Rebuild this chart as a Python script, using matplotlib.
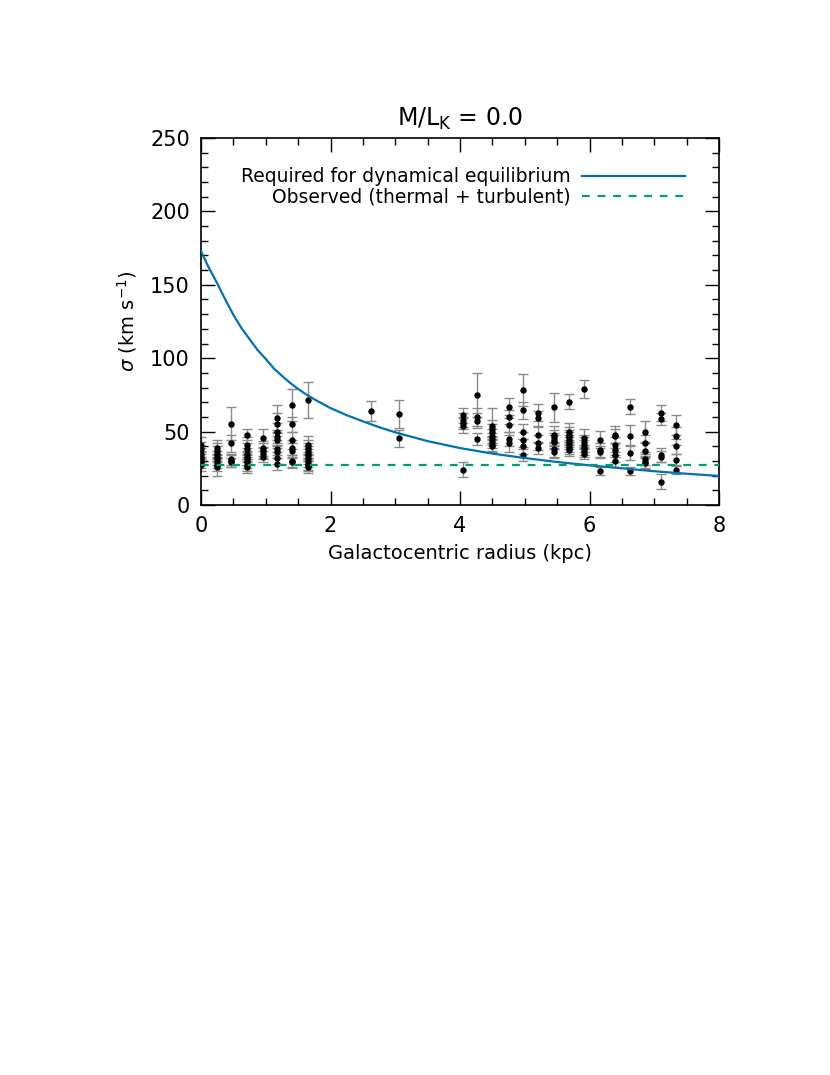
import numpy as np
import matplotlib
matplotlib.use("Agg")
import matplotlib.pyplot as plt
from matplotlib.ticker import MultipleLocator

# required dispersion for dynamical equilibrium
curve_r = [0, 0.1, 0.25, 0.375, 0.5, 0.625, 0.75, 0.875, 1.0, 1.125, 1.25,
           1.375, 1.5, 1.625, 1.75, 2.0, 2.25, 2.5, 2.75, 3.0, 3.5,
           4.0, 4.5, 5.0, 5.5, 6.0, 6.5, 7.0, 7.5, 8.0]
curve_sig = [173, 163.5, 151, 140, 129.5, 120.5, 113, 105.5, 99.5, 93, 88,
             83.2, 79, 75.3, 72, 66, 61.2, 57, 53, 49.5, 43.5,
             38.8, 35, 32, 29.3, 27, 25, 23, 21.3, 19.8]

# observed (thermal + turbulent) level
sig_obs_level = 27.5

# observed points, grouped by radius
ring_r = [0.0, 0.24, 0.47, 0.71, 0.95, 1.18, 1.41, 1.65, 2.63, 3.06,
          4.04, 4.27, 4.50, 4.75, 4.98, 5.21, 5.45, 5.68, 5.92, 6.16,
          6.39, 6.63, 6.86, 7.10, 7.33]
ring_sig = [
    [41, 38, 35, 33, 31, 29, 27],
    [39, 37, 35, 33, 31, 29, 27, 26],
    [55.5, 42, 31, 30, 29],
    [48, 41, 38, 35, 33, 31, 29, 27, 26],
    [45.5, 38.5, 37, 35, 33],
    [59, 55, 50, 46, 44, 38, 36, 32, 28],
    [68, 55, 44, 39, 37, 30, 29],
    [71.5, 41, 39, 37, 35, 34, 32, 30, 28, 27, 26],
    [64],
    [62, 45.5],
    [61, 58, 56, 54, 24],
    [75, 60, 57.5, 45],
    [54, 52, 50, 47, 45, 43, 41, 40],
    [67, 60, 54.5, 45, 42],
    [78.5, 64.5, 50, 44.5, 40, 34],
    [63, 59, 48, 42.5, 38.5],
    [66.5, 48, 46, 44, 43, 38, 36],
    [70.5, 50, 48, 46, 44.5, 43, 41, 39, 37.5],
    [79, 45.5, 43, 41, 39, 37, 35],
    [44.5, 37.5, 36, 23.2],
    [48, 47, 41, 37.5, 34, 30],
    [67, 47.3, 35.7, 23.2],
    [50, 42, 37, 31, 29.5, 28.5],
    [62.5, 58.5, 34, 33, 16],
    [54.5, 47, 40, 30.5, 24],
]
ring_err = [
    [5, 5, 4, 4, 4, 4, 4],
    [5, 5, 5, 4, 4, 4, 4, 6],
    [11, 6, 4, 4, 3],
    [4, 5, 4, 4, 4, 4, 4, 4, 4],
    [6, 5, 5, 4, 4],
    [9, 8, 6, 5, 5, 4, 4, 4, 4],
    [11, 5, 6, 5, 5, 4, 4],
    [12, 6, 5, 5, 5, 4, 4, 4, 4, 4, 4],
    [7],
    [9.5, 5.7],
    [5, 5, 4, 5, 5],
    [15, 6, 5, 4],
    [12, 6, 5, 5, 4, 4, 4, 4],
    [6, 5, 5, 5, 6],
    [11, 6, 5, 5, 5, 4],
    [6, 5, 5, 5, 4],
    [10, 6, 5, 5, 5, 5, 4],
    [5, 6, 5, 5, 5, 5, 5, 4, 4],
    [6, 6, 5, 5, 5, 4, 4],
    [6, 5, 4, 2.5],
    [6, 5, 5, 5, 5, 4],
    [5, 7, 5, 2.5],
    [7, 6, 5, 4, 4, 4],
    [5.5, 4, 5, 4, 5],
    [7, 6, 5, 4, 3],
]

BLUE = "#0072B2"
GREEN = "#009E73"

plt.rcParams["font.family"] = "DejaVu Sans"

fig = plt.figure(figsize=(8.3, 10.75), dpi=100)
ax = fig.add_axes([201 / 830, 1 - 505 / 1075, 518 / 830, 367 / 1075])

xs, ys, es = [], [], []
for r, sigs, errs in zip(ring_r, ring_sig, ring_err):
    for s, e in zip(sigs, errs):
        xs.append(r)
        ys.append(s)
        es.append(e)

ax.errorbar(xs, ys, yerr=es, fmt="none", ecolor="#8a8a8a", elinewidth=1,
            capsize=3.5, capthick=1, zorder=2)
ax.plot(xs, ys, "o", color="black", markersize=3.6, zorder=3)

ax.plot(curve_r, curve_sig, color=BLUE, lw=1.6, zorder=4,
        label="Required for dynamical equilibrium")
ax.axhline(sig_obs_level, color=GREEN, lw=1.6, dashes=(3.5, 3.5), zorder=4,
           label="Observed (thermal + turbulent)")

ax.set_xlim(0, 8)
ax.set_ylim(0, 250)
ax.xaxis.set_major_locator(MultipleLocator(2))
ax.xaxis.set_minor_locator(MultipleLocator(0.5))
ax.yaxis.set_major_locator(MultipleLocator(50))
ax.yaxis.set_minor_locator(MultipleLocator(10))
ax.tick_params(which="both", direction="in", top=True, right=True,
               width=1, labelsize=15)
ax.tick_params(which="major", length=10, pad=8)
ax.tick_params(which="minor", length=5)
for sp in ax.spines.values():
    sp.set_linewidth(1.2)

ax.set_xlabel("Galactocentric radius (kpc)", fontsize=14, labelpad=6)
ax.set_ylabel(r"$\sigma$ (km s$^{-1}$)", fontsize=14, labelpad=8)
ax.set_title(r"M/L$_{\rm K}$ = 0.0", fontsize=17, pad=9)

ax.legend(loc="upper right", bbox_to_anchor=(0.935, 0.92), frameon=False,
          markerfirst=False, fontsize=13.5, handlelength=5.5,
          handletextpad=0.6, labelspacing=0.08, borderpad=0, borderaxespad=0)

fig.savefig("out.png", dpi=100)
